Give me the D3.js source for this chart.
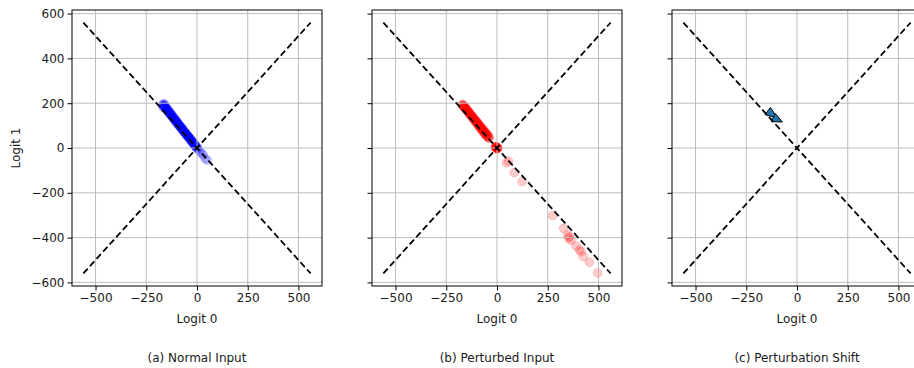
<!DOCTYPE html>
<html>
<head>
<meta charset="utf-8">
<script src="https://cdn.jsdelivr.net/npm/d3@7"></script>
<style>
  html, body { margin: 0; padding: 0; background: #fff; }
  svg { display: block; }
  text { font-family: "DejaVu Sans", sans-serif; fill: #1a1a1a; }
</style>
</head>
<body>
<svg id="chart" width="914" height="368"></svg>
<script>
// ---------------- data ----------------
const xTicks = [-500, -250, 0, 250, 500];
const yTicks = [-600, -400, -200, 0, 200, 400, 600];
const axisLimit = 616;
const diagEnds = [-560, 560];
const panelTitles = ["(a) Normal Input", "(b) Perturbed Input", "(c) Perturbation Shift"];
const xLabel = "Logit 0";
const yLabel = "Logit 1";

// (a) normal input logits
const normalX = [-170,-162,-168,-166,-163,-160,-158,-155,-152,-150,-147,-144,-141,-138,-135,-132,-129,-126,-123,-120,-117,-114,-111,-108,-105,-102,-99,-96,-93,-90,-87,-84,-81,-78,-75,-72,-69,-66,-63,-60,-57,-54,-51,-48,-45,-42,-39,-36,-33,-30,-27,-24,-21,-18,-15,-12,-9,-6,-3,0,5,2,15,22,31,40,51,
  -165,-161,-157,-153,-149,-145,-141,-137,-133,-129,-125,-121,-117,-113,-109,-105,-101,-97,-93,-89,-85,-81,-77,-73,-69,-65,-61,-57,-53,-49,-45,-41,-37,-33,-29,-25,-21,-17,-13,-9,-5];
const normalY = [195,198,182,190,186,192,178,185,170,180,168,172,158,166,152,160,146,150,138,145,132,136,124,130,118,122,110,116,104,108,98,100,90,94,84,88,76,80,70,72,64,66,56,60,50,52,44,46,36,40,30,32,22,26,16,18,8,10,2,4,-2,-6,-16,-24,-31,-48,-54,
  191,187,182,177,173,168,163,159,154,150,145,140,136,131,126,122,117,113,108,103,99,94,89,85,80,75,71,66,61,57,52,48,43,38,34,29,24,20,15,10,6];

// (b) perturbed input logits
const pertX = [-172,-169,-166,-163,-160,-157,-154,-151,-148,-145,-142,-139,-136,-133,-130,-127,-124,-121,-118,-115,-112,-109,-106,-103,-100,-97,-94,-91,-88,-85,-82,-79,-76,-73,-70,-67,-64,-61,-58,-55,-52,-49,-46,-43,-40,-37,
  -170,-166,-162,-158,-154,-150,-146,-142,-138,-134,-130,-126,-122,-118,-114,-110,-106,-102,-98,-94,-90,-86,-82,-78,-74,-70,-66,-62,-58,-54,-50,-46,-42,
  -8,-5,-3,0,2,-6,-2,4,0,-4,-7,1,3,-1,-5,
  47,56,85,123,274,328,348,356,353,365,389,406,415,425,455,496];
const pertY = [194,188,192,182,186,176,180,170,172,162,166,156,158,148,152,142,144,134,138,128,130,120,122,112,116,106,108,98,100,90,94,84,86,76,80,70,72,62,66,56,58,50,52,46,48,42,
  192,188,183,179,175,170,166,162,158,153,149,145,140,136,132,127,123,119,115,110,106,102,97,93,89,84,80,76,71,67,63,59,54,
  6,4,0,2,-2,8,-4,0,-1,2,3,5,-3,1,-1,
  -66,-58,-110,-150,-302,-359,-388,-396,-403,-411,-437,-455,-463,-485,-510,-557];

// (c) perturbation shift arrows: start point and shift
const shiftStartX = [-144, -117];
const shiftStartY = [165, 136];
const shiftDX = [47, 45];
const shiftDY = [-31, -20];

// ---------------- layout ----------------
const panelLeft = [72, 372, 672];
const panelW = 250;
const plotTop = 10, plotBottom = 286;
const svg = d3.select("#chart");

const y = d3.scaleLinear().domain([-axisLimit, axisLimit]).range([plotBottom, plotTop]);

panelLeft.forEach((left, i) => {
  const x = d3.scaleLinear().domain([-axisLimit, axisLimit]).range([left, left + panelW]);
  const g = svg.append("g");
  const clipId = "clip" + i;
  svg.append("clipPath").attr("id", clipId)
    .append("rect").attr("x", left).attr("y", plotTop).attr("width", panelW).attr("height", plotBottom - plotTop);

  const plot = g.append("g").attr("clip-path", `url(#${clipId})`);

  // scatter (below grid, like matplotlib collections)
  if (i === 0 || i === 1) {
    const xs = i === 0 ? normalX : pertX;
    const ys = i === 0 ? normalY : pertY;
    const col = i === 0 ? "#0000ff" : "#ff0000";
    plot.append("g").selectAll("circle")
      .data(d3.range(xs.length))
      .join("circle")
      .attr("cx", k => x(xs[k]))
      .attr("cy", k => y(ys[k]))
      .attr("r", 4.4)
      .attr("fill", col)
      .attr("fill-opacity", 0.2)
      .attr("stroke", col)
      .attr("stroke-opacity", 0.2)
      .attr("stroke-width", 0.8);
  }

  // grid
  plot.append("g").selectAll("line").data(xTicks).join("line")
    .attr("x1", d => x(d)).attr("x2", d => x(d))
    .attr("y1", plotTop).attr("y2", plotBottom)
    .attr("stroke", "#bcbcbc").attr("stroke-width", 1);
  plot.append("g").selectAll("line").data(yTicks).join("line")
    .attr("x1", left).attr("x2", left + panelW)
    .attr("y1", d => y(d)).attr("y2", d => y(d))
    .attr("stroke", "#bcbcbc").attr("stroke-width", 1);

  if (i === 2) {
    const hw = 4.5;
    plot.append("g").selectAll("path")
      .data(d3.range(shiftStartX.length))
      .join("path")
      .attr("d", k => {
        const x0 = x(shiftStartX[k]), y0 = y(shiftStartY[k]);
        const x1 = x(shiftStartX[k] + shiftDX[k]), y1 = y(shiftStartY[k] + shiftDY[k]);
        const dx = x1 - x0, dy = y1 - y0, L = Math.hypot(dx, dy);
        const nx = -dy / L * hw, ny = dx / L * hw;
        return `M${x0 + nx},${y0 + ny}L${x1},${y1}L${x0 - nx},${y0 - ny}Z`;
      })
      .attr("fill", "#1f77b4")
      .attr("stroke", "#000")
      .attr("stroke-width", 1)
      .attr("stroke-linejoin", "miter");
  }

  // dashed diagonals
  const line = d3.line().x(d => x(d[0])).y(d => y(d[1]));
  [[[diagEnds[0], diagEnds[1]], [diagEnds[1], diagEnds[0]]],
   [[diagEnds[0], diagEnds[0]], [diagEnds[1], diagEnds[1]]]].forEach(seg => {
    plot.append("path").attr("d", line(seg))
      .attr("fill", "none").attr("stroke", "#000")
      .attr("stroke-width", 1.8).attr("stroke-dasharray", "6.5,3.3");
  });

  // axes
  const fmt = d => d < 0 ? "\u2212" + Math.abs(d) : String(d);
  const xAxis = d3.axisBottom(x).tickValues(xTicks).tickSize(4.5).tickPadding(3).tickFormat(fmt);
  const gx = g.append("g").attr("transform", `translate(0,${plotBottom})`).call(xAxis);
  const yAxis = d3.axisLeft(y).tickValues(yTicks).tickSize(4.5).tickPadding(3)
    .tickFormat(d => i === 0 ? fmt(d) : "");
  const gy = g.append("g").attr("transform", `translate(${left},0)`).call(yAxis);
  [gx, gy].forEach(a => {
    a.select(".domain").remove();
    a.selectAll("line").attr("stroke", "#000").attr("stroke-width", 1);
    a.selectAll("text").attr("font-size", 12).attr("fill", "#1a1a1a")
      .attr("font-family", "DejaVu Sans, sans-serif");
  });

  // frame
  g.append("rect").attr("x", left).attr("y", plotTop).attr("width", panelW).attr("height", plotBottom - plotTop)
    .attr("fill", "none").attr("stroke", "#000").attr("stroke-width", 1);

  // labels
  g.append("text").attr("x", left + panelW / 2).attr("y", 322.5)
    .attr("text-anchor", "middle").attr("font-size", 12).text(xLabel);
  g.append("text").attr("x", left + panelW / 2).attr("y", 362)
    .attr("text-anchor", "middle").attr("font-size", 12).text(panelTitles[i]);
  if (i === 0) {
    g.append("text").attr("transform", `translate(20,${y(0)}) rotate(-90)`)
      .attr("text-anchor", "middle").attr("font-size", 12).text(yLabel);
  }
});
</script>
</body>
</html>
